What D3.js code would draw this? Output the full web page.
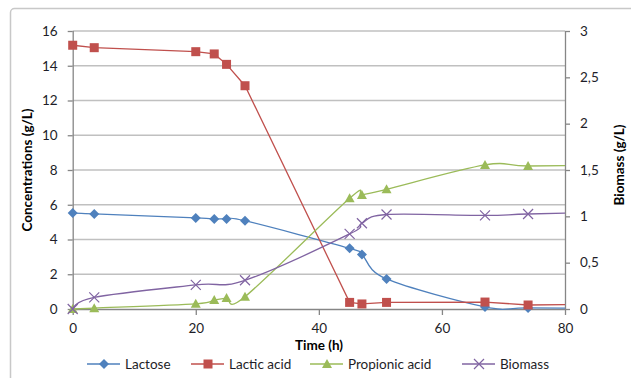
<!DOCTYPE html>
<html><head><meta charset="utf-8">
<script src="https://cdn.jsdelivr.net/npm/d3@7"></script>
<style>
body{margin:0;background:#fff;}
text{font-family:Lato,"Open Sans",sans-serif;}
</style></head>
<body><svg id="c" width="631" height="378"></svg>
<script>
// Data (time in hours; last point lies beyond the 80 h axis limit and is clipped)
const time        = [0, 3.5, 20, 23, 25, 28, 45, 47, 51, 67, 74, 90];
const lactose     = [5.53, 5.47, 5.24, 5.18, 5.18, 5.08, 3.49, 3.13, 1.73, 0.12, 0.06, 0.04];
const lacticAcid  = [15.18, 15.04, 14.81, 14.68, 14.08, 12.85, 0.38, 0.29, 0.38, 0.40, 0.23, 0.3];
const propionic   = [0.0, 0.05, 0.30, 0.52, 0.63, 0.71, 6.37, 6.56, 6.89, 8.29, 8.23, 8.3];
const bioTime     = [0, 3.5, 20, 28, 45, 47, 51, 67, 74, 90];
const biomass     = [0.0, 0.126, 0.26, 0.31, 0.81, 0.925, 1.02, 1.01, 1.025, 1.05];
const xTicks = [0, 20, 40, 60, 80];
const yLeftTicks = [0, 2, 4, 6, 8, 10, 12, 14, 16];
const yRightTicks = [0, 0.5, 1, 1.5, 2, 2.5, 3];
const seriesNames = ["Lactose", "Lactic acid", "Propionic acid", "Biomass"];
const colors = ["#4F81BD", "#C0504D", "#9BBB59", "#8064A2"];

const svg = d3.select("#c");
const L = 72.7, R = 565, T = 31, B = 309;
const x = d3.scaleLinear().domain([0, 80]).range([L, R]);
const yL = d3.scaleLinear().domain([0, 16]).range([B, T]);
const yR = d3.scaleLinear().domain([0, 3]).range([B, T]);

// outer frame
svg.append("rect").attr("x", 10.5).attr("y", 8.5).attr("width", 640).attr("height", 400)
  .attr("rx", 4).attr("fill", "none").attr("stroke", "#c8c8c8").attr("stroke-width", 1.5);

// gridlines
svg.append("g").selectAll("line").data(yLeftTicks.filter(d => d > 0)).join("line")
  .attr("x1", L).attr("x2", R).attr("y1", d => yL(d)).attr("y2", d => yL(d))
  .attr("stroke", "#c0c0c0").attr("stroke-width", 1.5);

// axes
const fontSize = "13.5px";
const gx = svg.append("g").attr("transform", `translate(0,${B})`)
  .call(d3.axisBottom(x).tickValues(xTicks).tickSize(6).tickPadding(8));
const gl = svg.append("g").attr("transform", `translate(${L},0)`)
  .call(d3.axisLeft(yL).tickValues(yLeftTicks).tickSize(5).tickPadding(10));
const gr = svg.append("g").attr("transform", `translate(${R},0)`)
  .call(d3.axisRight(yR).tickValues(yRightTicks).tickSize(5).tickPadding(10)
    .tickFormat(d => String(d).replace(".", ",")));
[gx, gl, gr].forEach(g => {
  g.select(".domain").attr("stroke", "#868686").attr("stroke-width", 1.3);
  g.selectAll(".tick line").attr("stroke", "#868686").attr("stroke-width", 1.3);
  g.selectAll(".tick text").attr("fill", "#1e1e28").style("font-size", fontSize)
    .style("font-family", "Lato, 'Open Sans', sans-serif");
});
gx.selectAll(".tick line").attr("y1", 0);
gx.select(".domain").attr("d", `M${L},0.5H${R}`);
gl.select(".domain").attr("d", `M0.5,${B}V${T}`);
gr.select(".domain").attr("d", `M0.5,${B}V${T}`);

// axis titles
svg.append("text").attr("transform", `translate(32,${(T + B) / 2}) rotate(-90)`)
  .attr("text-anchor", "middle").attr("font-weight", "bold").attr("font-size", "13.5px")
  .attr("fill", "#000").text("Concentrations (g/L)");
svg.append("text").attr("transform", `translate(624,${(T + B) / 2 - 5}) rotate(-90)`)
  .attr("text-anchor", "middle").attr("font-weight", "bold").attr("font-size", "13.5px")
  .attr("fill", "#000").text("Biomass  (g/L)");
svg.append("text").attr("x", 319).attr("y", 350).attr("text-anchor", "middle")
  .attr("font-weight", "bold").attr("font-size", "13.5px").attr("fill", "#000").text("Time (h)");

// clip for lines
svg.append("clipPath").attr("id", "clip").append("rect")
  .attr("x", L - 10).attr("y", 0).attr("width", R - L + 10).attr("height", 378);

const smooth = d3.curveCardinal.tension(0);
const series = [
  {t: time, v: lactose, y: yL, curve: smooth, sym: "diamond"},
  {t: time, v: lacticAcid, y: yL, curve: d3.curveLinear, sym: "square"},
  {t: time, v: propionic, y: yL, curve: smooth, sym: "triangle"},
  {t: bioTime, v: biomass, y: yR, curve: smooth, sym: "x"}
];

function drawMarker(g, sym, color) {
  if (sym === "diamond") g.append("path").attr("d", "M0,-5L5,0L0,5L-5,0Z").attr("fill", color);
  else if (sym === "square") g.append("rect").attr("x", -4.5).attr("y", -4.5).attr("width", 9).attr("height", 9).attr("fill", color);
  else if (sym === "triangle") g.append("path").attr("d", "M0,-5L5,4L-5,4Z").attr("fill", color);
  else g.append("path").attr("d", "M-5,-5L5,5M-5,5L5,-5").attr("stroke", color).attr("stroke-width", 1.2).attr("fill", "none");
}

series.forEach((s, i) => {
  const pts = s.t.map((t, j) => [t, s.v[j]]);
  const line = d3.line().x(d => x(d[0])).y(d => s.y(d[1])).curve(s.curve);
  svg.append("path").attr("d", line(pts)).attr("clip-path", "url(#clip)")
    .attr("fill", "none").attr("stroke", colors[i]).attr("stroke-width", 1.3);
  pts.filter(d => d[0] <= 80).forEach(d => {
    const g = svg.append("g").attr("transform", `translate(${x(d[0])},${s.y(d[1])})`);
    drawMarker(g, s.sym, colors[i]);
  });
});

// legend
const legendX = [87, 191, 310, 462];
const legendY = 364;
seriesNames.forEach((name, i) => {
  const g = svg.append("g").attr("transform", `translate(${legendX[i]},${legendY})`);
  g.append("line").attr("x1", 0).attr("x2", 33).attr("y1", 0).attr("y2", 0)
    .attr("stroke", colors[i]).attr("stroke-width", 1.3);
  const m = g.append("g").attr("transform", "translate(17,0)");
  drawMarker(m, series[i].sym, colors[i]);
  g.append("text").attr("x", 38).attr("y", 5).attr("font-size", fontSize).attr("fill", "#1e1e28").text(name);
});
</script></body></html>
